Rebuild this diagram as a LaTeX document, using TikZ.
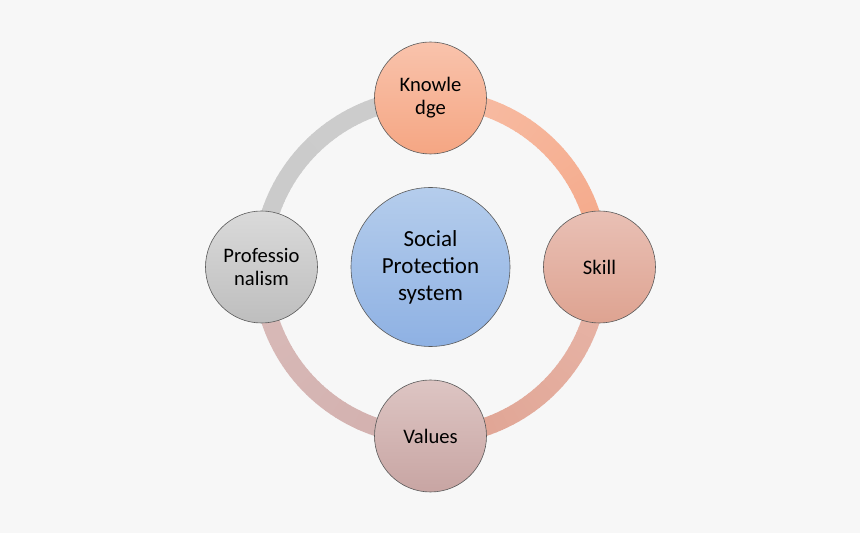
\documentclass[tikz,border=0pt]{standalone}
\usepackage{fontspec}
\setmainfont{Carlito}
\definecolor{bg}{HTML}{F7F7F7}
\definecolor{edge}{HTML}{5A5A5A}
\definecolor{kTop}{HTML}{F9C3AC}
\definecolor{kBot}{HTML}{F5A683}
\definecolor{sTop}{HTML}{E9C0B5}
\definecolor{sBot}{HTML}{DEA391}
\definecolor{pTop}{HTML}{DADADA}
\definecolor{pBot}{HTML}{BEBEBE}
\definecolor{vTop}{HTML}{DDC5C3}
\definecolor{vBot}{HTML}{C8A5A3}
\definecolor{cTop}{HTML}{B5CDEC}
\definecolor{cBot}{HTML}{8EB1E3}
\definecolor{aKS1}{HTML}{F8BFA7}
\definecolor{aKS2}{HTML}{F4A787}
\definecolor{aSV1}{HTML}{E8B6A9}
\definecolor{aSV2}{HTML}{DFA291}
\definecolor{aVP1}{HTML}{D2AFAD}
\definecolor{aVP2}{HTML}{D9BBB9}
\definecolor{aPK1}{HTML}{CBCBCB}
\definecolor{aPK2}{HTML}{CCCCCC}
\tikzset{
  outer/.style={circle, draw=edge, line width=0.6pt, minimum size=112pt, inner sep=0pt,
    align=center, font=\fontsize{20.6}{23}\selectfont},
  hub/.style={circle, draw=edge, line width=0.6pt, minimum size=159pt, inner sep=0pt,
    align=center, font=\fontsize{23}{27}\selectfont, top color=cTop, bottom color=cBot},
  band/.style={line width=18pt, line cap=butt}
}
\begin{document}
\begin{tikzpicture}[x=1pt,y=1pt]
\fill[bg] (0,0) rectangle (860,533);
\useasboundingbox (0,0) rectangle (860,533);
\coordinate (ring) at (430.5,266);
% ring segments (drawn from the ring centre, between node positions)
\foreach \i in {0,...,44}{
  \pgfmathsetmacro\a{90-2*\i}
  \pgfmathtruncatemacro\p{100-\i*100/44}
  \draw[band, color=aKS1!\p!aKS2] ([shift={(\a:169pt)}]ring) arc[start angle=\a, end angle=\a-2.3, radius=169pt];
  \pgfmathsetmacro\b{-2*\i}
  \draw[band, color=aSV1!\p!aSV2] ([shift={(\b:169pt)}]ring) arc[start angle=\b, end angle=\b-2.3, radius=169pt];
  \pgfmathsetmacro\c{-90-2*\i}
  \draw[band, color=aVP1!\p!aVP2] ([shift={(\c:169pt)}]ring) arc[start angle=\c, end angle=\c-2.3, radius=169pt];
  \pgfmathsetmacro\d{180-2*\i}
  \draw[band, color=aPK1!\p!aPK2] ([shift={(\d:169pt)}]ring) arc[start angle=\d, end angle=\d-2.3, radius=169pt];
}
\node[hub] (sps) at (ring) {Social\\Protection\\system};
\node[outer, top color=kTop, bottom color=kBot] (know) at (430.5,435) {Knowle\\dge};
\node[outer, top color=sTop, bottom color=sBot] (skill) at (599.5,266) {Skill};
\node[outer, top color=vTop, bottom color=vBot] (val) at (430.5,97) {Values};
\node[outer, top color=pTop, bottom color=pBot] (prof) at (261.5,266) {Professio\\nalism};
\end{tikzpicture}
\end{document}
